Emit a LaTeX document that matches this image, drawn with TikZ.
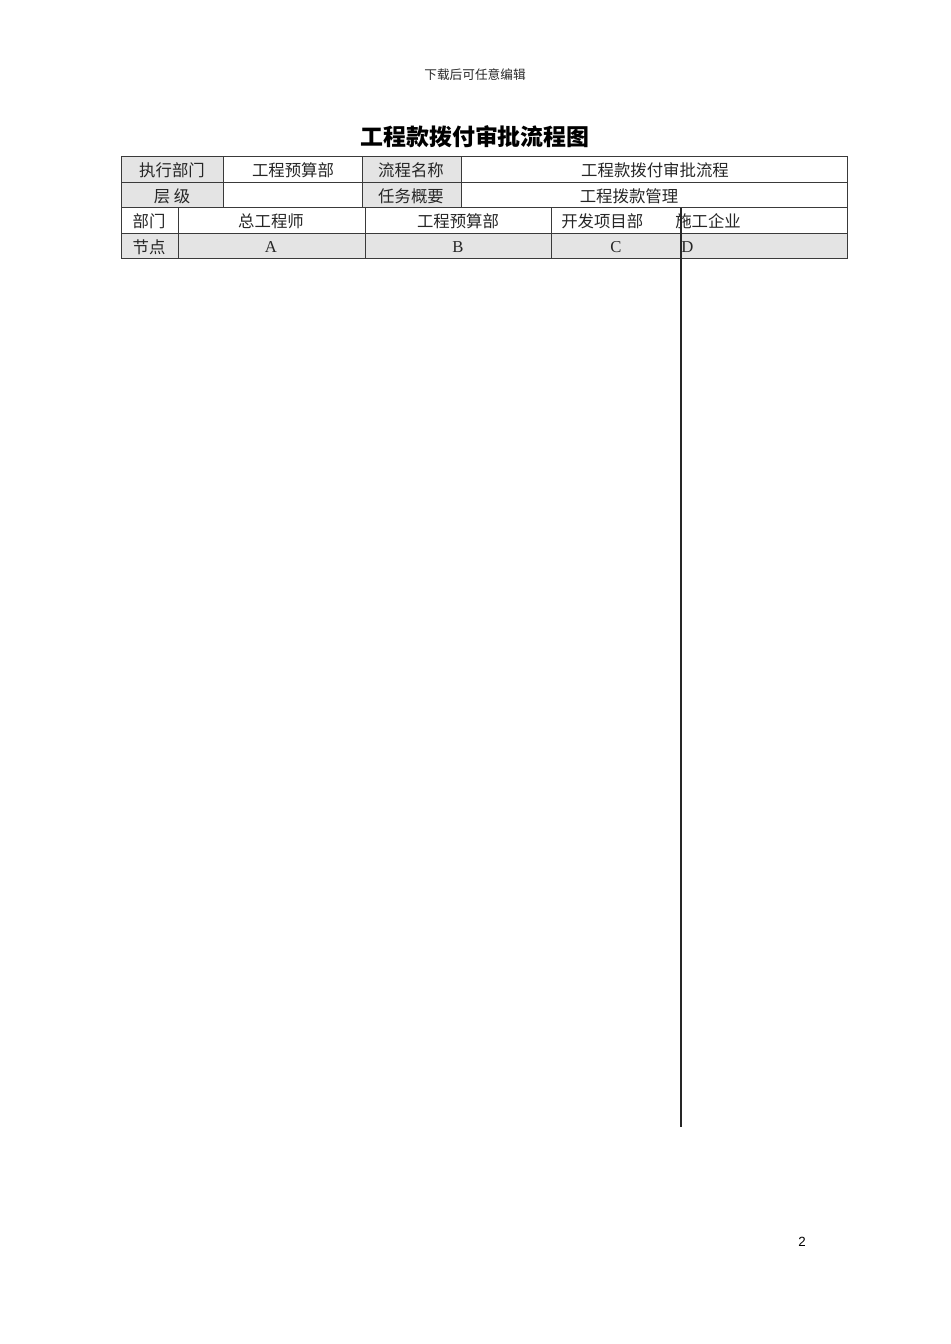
\documentclass[tikz,border=0pt]{standalone}
\usepackage{fontspec}
\setmainfont{Liberation Serif}
\setsansfont{Liberation Sans}
\newfontfamily\cjk{Noto Sans CJK SC}
\definecolor{cellgray}{HTML}{E4E4E4}
\definecolor{rule}{HTML}{3A3A3A}
\begin{document}
\begin{tikzpicture}[x=0.75pt,y=-0.75pt,
  txt/.style={inner sep=0pt,text=black!85,font=\fontsize{12.3}{14}\selectfont\cjk},
  lat/.style={inner sep=0pt,text=black!85,font=\fontsize{12.5}{14}\selectfont},
  grid/.style={draw=rule,line width=0.75pt}]
\useasboundingbox (0,0) rectangle (950,1344);
% header and title
\node[txt,font=\fontsize{9.5}{11}\selectfont\cjk] (hdr) at (475,75) {下载后可任意编辑};
\node[inner sep=0pt,font=\fontsize{17.2}{20}\selectfont\cjk\bfseries] (title) at (475,137) {工程款拨付审批流程图};
% fills
\fill[cellgray] (121,157) rectangle (223,208);
\fill[cellgray] (362,157) rectangle (461,208);
\fill[cellgray] (121,234) rectangle (847,259);
% grid
\draw[grid] (121,157) rectangle (847,259);
\draw[grid] (121,183) -- (847,183);
\draw[grid] (121,208) -- (847,208);
\draw[grid] (121,234) -- (847,234);
\draw[grid] (223,157) -- (223,208);
\draw[grid] (362,157) -- (362,208);
\draw[grid] (461,157) -- (461,208);
\draw[grid] (178,208) -- (178,259);
\draw[grid] (365,208) -- (365,259);
\draw[grid] (551,208) -- (551,259);
% row 1
\node[txt] (r1a) at (172,170) {执行部门};
\node[txt] (r1b) at (293,170) {工程预算部};
\node[txt] (r1c) at (411,170) {流程名称};
\node[txt] (r1d) at (655,170) {工程款拨付审批流程};
% row 2
\node[txt] (r2a) at (172,196) {层\ 级};
\node[txt] (r2c) at (411,196) {任务概要};
\node[txt] (r2d) at (629,196) {工程拨款管理};
% row 3
\node[txt] (r3a) at (149,221) {部门};
\node[txt] (r3b) at (271,221) {总工程师};
\node[txt] (r3c) at (458,221) {工程预算部};
\node[txt,anchor=west] (r3d) at (561,221) {开发项目部};
\node[txt,anchor=west] (r3e) at (675,221) {施工企业};
% row 4
\node[txt] (r4a) at (149,247) {节点};
\node[lat] (r4b) at (271,247) {A};
\node[lat] (r4c) at (458,247) {B};
\node[lat] (r4d) at (616,247) {C};
\node[lat,anchor=west] (r4e) at (681,247) {D};
% vertical line
\coordinate (vtop) at (681,208);
\coordinate (vbot) at (681,1127);
\draw[draw=black!85,line width=1pt] (vtop) -- (vbot);
% page number
\node[inner sep=0pt,font=\fontsize{10}{12}\selectfont\sffamily] (pg) at (802,1242) {2};
\end{tikzpicture}
\end{document}
